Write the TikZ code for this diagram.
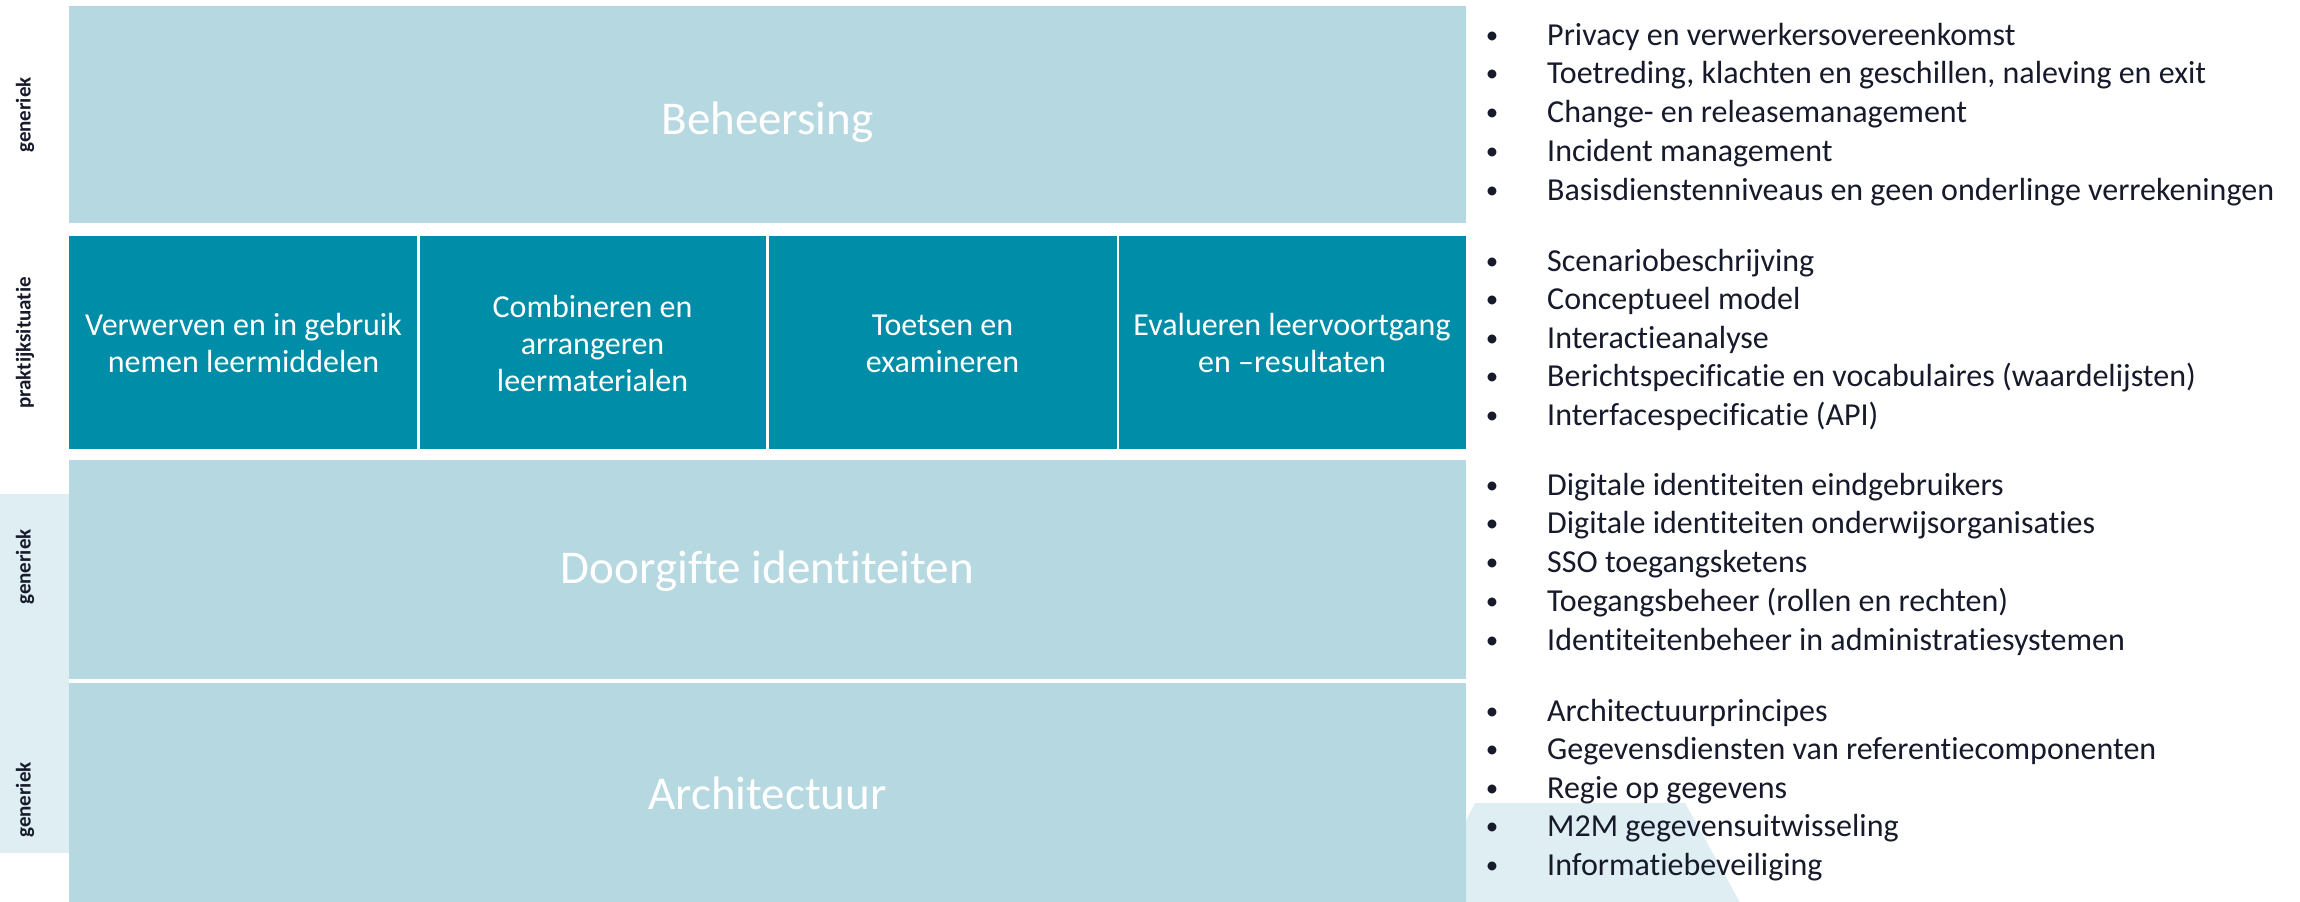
\documentclass[tikz,border=0pt]{standalone}
\usepackage{fontspec}
\setmainfont{Carlito}[RawFeature={-liga;-clig;-dlig}]
\definecolor{lightbox}{RGB}{182,216,224}
\definecolor{darkbox}{RGB}{0,141,168}
\definecolor{stripc}{RGB}{222,238,243}
\definecolor{ink}{RGB}{22,26,42}
\tikzset{
  heading/.style={anchor=base, text=white, inner sep=0pt, font=\fontsize{47}{56}\selectfont},
  coltext/.style={anchor=base, text=white, inner sep=0pt, font=\fontsize{32}{37}\selectfont},
  sidelabel/.style={rotate=90, text=ink, inner sep=0pt, font=\fontsize{21}{25}\selectfont\bfseries},
  bul/.style={anchor=base, text=ink, inner sep=0pt, font=\fontsize{25}{30}\selectfont},
  item/.style={anchor=base west, text=ink, inner sep=0pt, font=\fontsize{32}{38}\selectfont},
}
\begin{document}
\begin{tikzpicture}[x=1pt,y=-1pt]
\useasboundingbox[fill=white] (0,0) rectangle (2300,902);
% background shapes
\fill[stripc] (0,494) rectangle (69,853);
\fill[stripc] (1475,803) -- (1685,803) -- (1742,906) -- (1423,906) -- cycle;
% bands
\fill[lightbox] (69,6) rectangle (1466,223);
\fill[darkbox] (69,236) rectangle (417,449);
\fill[darkbox] (419.5,236) rectangle (766,449);
\fill[darkbox] (768.5,236) rectangle (1116.5,449);
\fill[darkbox] (1119,236) rectangle (1466,449);
\fill[lightbox] (69,460) rectangle (1466,679);
\fill[lightbox] (69,683) rectangle (1466,902);
% headings
\node[heading] (beh) at (767.5,134) {Beheersing};
\node[heading] (door) at (767.5,583) {Doorgifte identiteiten};
\node[heading] (arch) at (767.5,809) {Architectuur};
% columns
\node[coltext] (c1a) at (243.5,335) {Verwerven en in gebruik};
\node[coltext] (c1b) at (243.5,372) {nemen leermiddelen};
\node[coltext] (c2a) at (592.5,317) {Combineren en};
\node[coltext] (c2b) at (592.5,354) {arrangeren};
\node[coltext] (c2c) at (592.5,391) {leermaterialen};
\node[coltext] (c3a) at (942.5,335) {Toetsen en};
\node[coltext] (c3b) at (942.5,372) {examineren};
\node[coltext] (c4a) at (1292,335) {Evalueren leervoortgang};
\node[coltext] (c4b) at (1292,372) {en --resultaten};
% side labels
\node[sidelabel] (s1) at (25,115) {generiek};
\node[sidelabel] (s2) at (25,343) {praktijksituatie};
\node[sidelabel] (s3) at (25,567) {generiek};
\node[sidelabel] (s4) at (25,800) {generiek};
% group 1
\node[bul] (b11) at (1492,43) {•};
\node[item] (t11) at (1547,45) {Privacy en verwerkersovereenkomst};
\node[bul] (b12) at (1492,81.75) {•};
\node[item] (t12) at (1547,83.75) {Toetreding, klachten en geschillen, naleving en exit};
\node[bul] (b13) at (1492,120.5) {•};
\node[item] (t13) at (1547,122.5) {Change- en releasemanagement};
\node[bul] (b14) at (1492,159.25) {•};
\node[item] (t14) at (1547,161.25) {Incident management};
\node[bul] (b15) at (1492,198) {•};
\node[item] (t15) at (1547,200) {Basisdienstenniveaus en geen onderlinge verrekeningen};
% group 2
\node[bul] (b21) at (1492,269) {•};
\node[item] (t21) at (1547,271) {Scenariobeschrijving};
\node[bul] (b22) at (1492,307.5) {•};
\node[item] (t22) at (1547,309.5) {Conceptueel model};
\node[bul] (b23) at (1492,346) {•};
\node[item] (t23) at (1547,348) {Interactieanalyse};
\node[bul] (b24) at (1492,384.5) {•};
\node[item] (t24) at (1547,386.5) {Berichtspecificatie en vocabulaires (waardelijsten)};
\node[bul] (b25) at (1492,423) {•};
\node[item] (t25) at (1547,425) {Interfacespecificatie (API)};
% group 3
\node[bul] (b31) at (1492,493) {•};
\node[item] (t31) at (1547,495) {Digitale identiteiten eindgebruikers};
\node[bul] (b32) at (1492,531.75) {•};
\node[item] (t32) at (1547,533.75) {Digitale identiteiten onderwijsorganisaties};
\node[bul] (b33) at (1492,570.5) {•};
\node[item] (t33) at (1547,572.5) {SSO toegangsketens};
\node[bul] (b34) at (1492,609.25) {•};
\node[item] (t34) at (1547,611.25) {Toegangsbeheer (rollen en rechten)};
\node[bul] (b35) at (1492,648) {•};
\node[item] (t35) at (1547,650) {Identiteitenbeheer in administratiesystemen};
% group 4
\node[bul] (b41) at (1492,719) {•};
\node[item] (t41) at (1547,721) {Architectuurprincipes};
\node[bul] (b42) at (1492,757.5) {•};
\node[item] (t42) at (1547,759.5) {Gegevensdiensten van referentiecomponenten};
\node[bul] (b43) at (1492,796) {•};
\node[item] (t43) at (1547,798) {Regie op gegevens};
\node[bul] (b44) at (1492,834.5) {•};
\node[item] (t44) at (1547,836.5) {M2M gegevensuitwisseling};
\node[bul] (b45) at (1492,873) {•};
\node[item] (t45) at (1547,875) {Informatiebeveiliging};
\end{tikzpicture}
\end{document}
